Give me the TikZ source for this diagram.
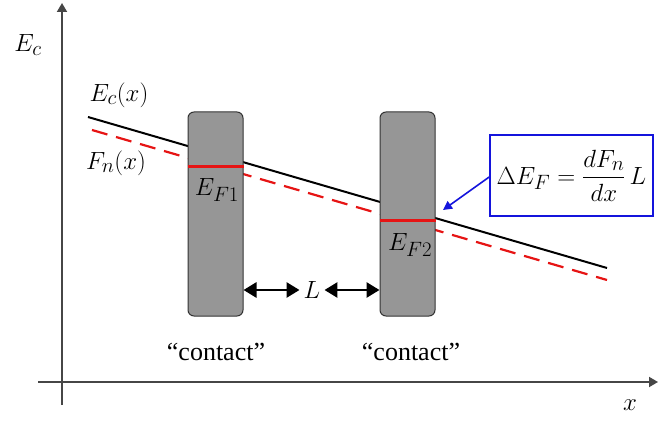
\documentclass[tikz,border=0pt]{standalone}
\usepackage{amsmath}
\usepackage{fontspec}
\setmainfont{Liberation Serif}
\usetikzlibrary{arrows.meta}
\definecolor{contactgray}{RGB}{150,150,150}
\definecolor{axisgray}{RGB}{70,70,70}
\definecolor{myred}{RGB}{230,20,20}
\definecolor{myblue}{RGB}{20,20,220}
\tikzset{
  axisline/.style={draw=axisgray, line width=1.8pt, -{Stealth[length=9pt,width=10pt,inset=0pt]}},
  contactbox/.style={draw=black!80, fill=contactgray, line width=1pt, rounded corners=6pt},
  lbl/.style={font=\fontsize{26}{30}\selectfont, inner sep=0pt},
  mlbl/.style={font=\fontsize{29}{33}\selectfont, inner sep=0pt},
  fermi/.style={draw=myred, line width=3pt},
  bigarrow/.style={line width=2.8pt, {Stealth[length=13pt,width=15pt,inset=0pt]}-{Stealth[length=13pt,width=15pt,inset=0pt]}},
}
\begin{document}
\begin{tikzpicture}[x=1pt,y=-1pt]
\useasboundingbox (0,0) rectangle (658,430);
% axes
\coordinate (yb) at (62,405);
\coordinate (yt) at (62,3);
\coordinate (xl) at (38,382);
\coordinate (xr) at (658,382);
\draw[axisline] (yb) -- (yt);
\draw[axisline] (xl) -- (xr);
\node[mlbl] (Ec) at (28,45) {$E_c$};
\node[mlbl] (xlab) at (630,405) {$x$};
% bands
\coordinate (e1) at (88,117);
\coordinate (e2) at (607,268);
\coordinate (f1) at (92,130);
\coordinate (f2) at (607,280);
\draw[line width=2pt, black] (e1) -- (e2);
\draw[line width=2.2pt, myred, dash pattern=on 16pt off 9pt] (f1) -- (f2);
% contacts
\node[contactbox, minimum width=55pt, minimum height=204pt, inner sep=0pt] (c1) at (215.5,214) {};
\node[contactbox, minimum width=55pt, minimum height=204pt, inner sep=0pt] (c2) at (407.5,214) {};
\draw[fermi] ([yshift=-55pt]c1.north west) -- ([yshift=-55pt]c1.north east);
\draw[fermi] ([yshift=-109pt]c2.north west) -- ([yshift=-109pt]c2.north east);
\node[mlbl] (EF1) at (217,190) {$E_{F1}$};
\node[mlbl] (EF2) at (410,245) {$E_{F2}$};
% L arrow
\node[mlbl] (L) at (312,290) {$L$};
\draw[bigarrow] (L.west) ++(-4pt,0) coordinate (La) -- (c1.east |- La);
\draw[bigarrow] (L.east) ++(4pt,0) coordinate (Lb) -- (c2.west |- Lb);
% labels
\node[mlbl] (EcX) at (119,95) {$E_c(x)$};
\node[mlbl] (FnX) at (116,163) {$F_n(x)$};
\node[lbl] (con1) at (216,352) {“contact”};
\node[lbl] (con2) at (411,352) {“contact”};
% formula box
\node[draw=myblue, line width=1.6pt, minimum width=163pt, minimum height=81pt, mlbl] (box) at (571.5,175.5) {$\Delta E_F=\dfrac{dF_n}{dx}\,L$};
\coordinate (tip) at (443,210);
\draw[myblue, line width=1.6pt, -{Stealth[length=9pt,width=9pt,inset=0pt]}] (box.west |- 0,177) -- (tip);
\end{tikzpicture}
\end{document}
